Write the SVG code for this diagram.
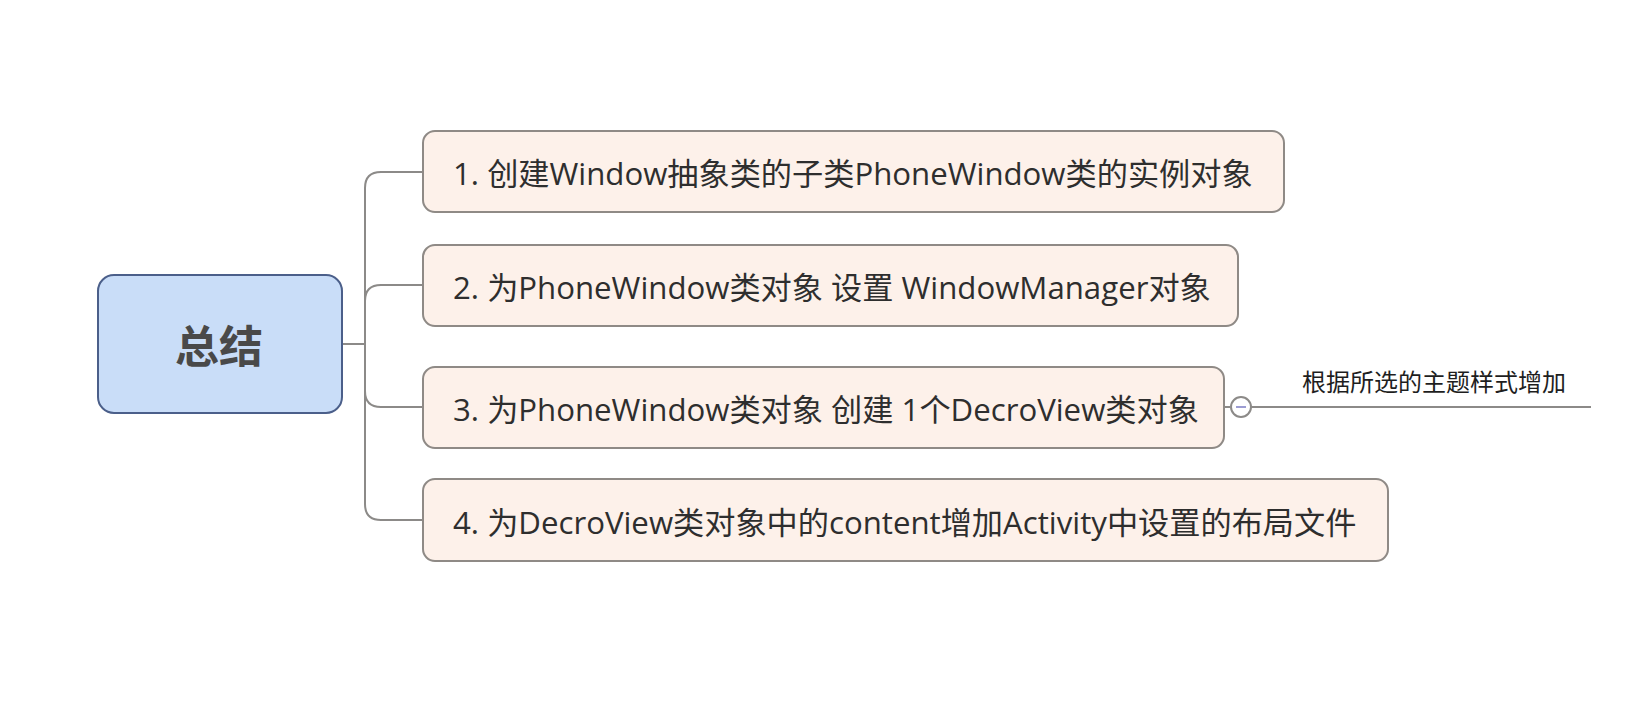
<svg xmlns="http://www.w3.org/2000/svg" width="1644" height="714" viewBox="0 0 1644 714">
  <style>
    .conn { fill: none; stroke: #8c8a88; stroke-width: 2; }
    .node rect { fill: #fdf1ea; stroke: #8f8a86; stroke-width: 2; }
    .node text { font-family: "Open Sans", "Noto Sans CJK SC", sans-serif; font-size: 31.2px; fill: #2e2e2e; }
    .root rect { fill: #c9ddf8; stroke: #4b5f8a; stroke-width: 2; }
    .root text { font-family: "Noto Sans CJK SC", sans-serif; font-size: 44px; font-weight: bold; fill: #494949; }
    .note { font-family: "Noto Sans CJK SC", sans-serif; font-size: 24px; fill: #1e1e1e; }
  </style>
  <rect width="1644" height="714" fill="#ffffff"/>
  <g id="connectors">
    <path class="conn" d="M342,344 L365,344"/>
    <path class="conn" d="M365,188 L365,504"/>
    <path class="conn" d="M365,188 Q365,172 381,172 L423,172"/>
    <path class="conn" d="M365,301 Q365,285 381,285 L423,285"/>
    <path class="conn" d="M365,391 Q365,407 381,407 L423,407"/>
    <path class="conn" d="M365,504 Q365,520 381,520 L423,520"/>
    <path class="conn" d="M1224,407 L1230,407"/>
    <path class="conn" d="M1251,407 L1591,407"/>
  </g>
  <g id="root" class="root">
    <rect x="98" y="275" width="244" height="138" rx="16"/>
    <text x="219" y="344" text-anchor="middle" dominant-baseline="central">总结</text>
  </g>
  <g id="node1" class="node">
    <rect x="423" y="131" width="861" height="81" rx="12"/>
    <text x="453" y="185">1. 创建Window抽象类的子类PhoneWindow类的实例对象</text>
  </g>
  <g id="node2" class="node">
    <rect x="423" y="245" width="815" height="81" rx="12"/>
    <text x="453" y="299">2. 为PhoneWindow类对象 设置 WindowManager对象</text>
  </g>
  <g id="node3" class="node">
    <rect x="423" y="367" width="801" height="81" rx="12"/>
    <text x="453" y="421">3. 为PhoneWindow类对象 创建 1个DecroView类对象</text>
  </g>
  <g id="node4" class="node">
    <rect x="423" y="479" width="965" height="82" rx="12"/>
    <text x="453" y="534">4. 为DecroView类对象中的content增加Activity中设置的布局文件</text>
  </g>
  <g id="collapse">
    <circle cx="1241" cy="407" r="10" fill="#ffffff" stroke="#8c8a88" stroke-width="2"/>
    <path d="M1236,407 L1246,407" stroke="#9c9cd2" stroke-width="2"/>
  </g>
  <g id="note">
    <text class="note" x="1302" y="391">根据所选的主题样式增加</text>
  </g>
</svg>
